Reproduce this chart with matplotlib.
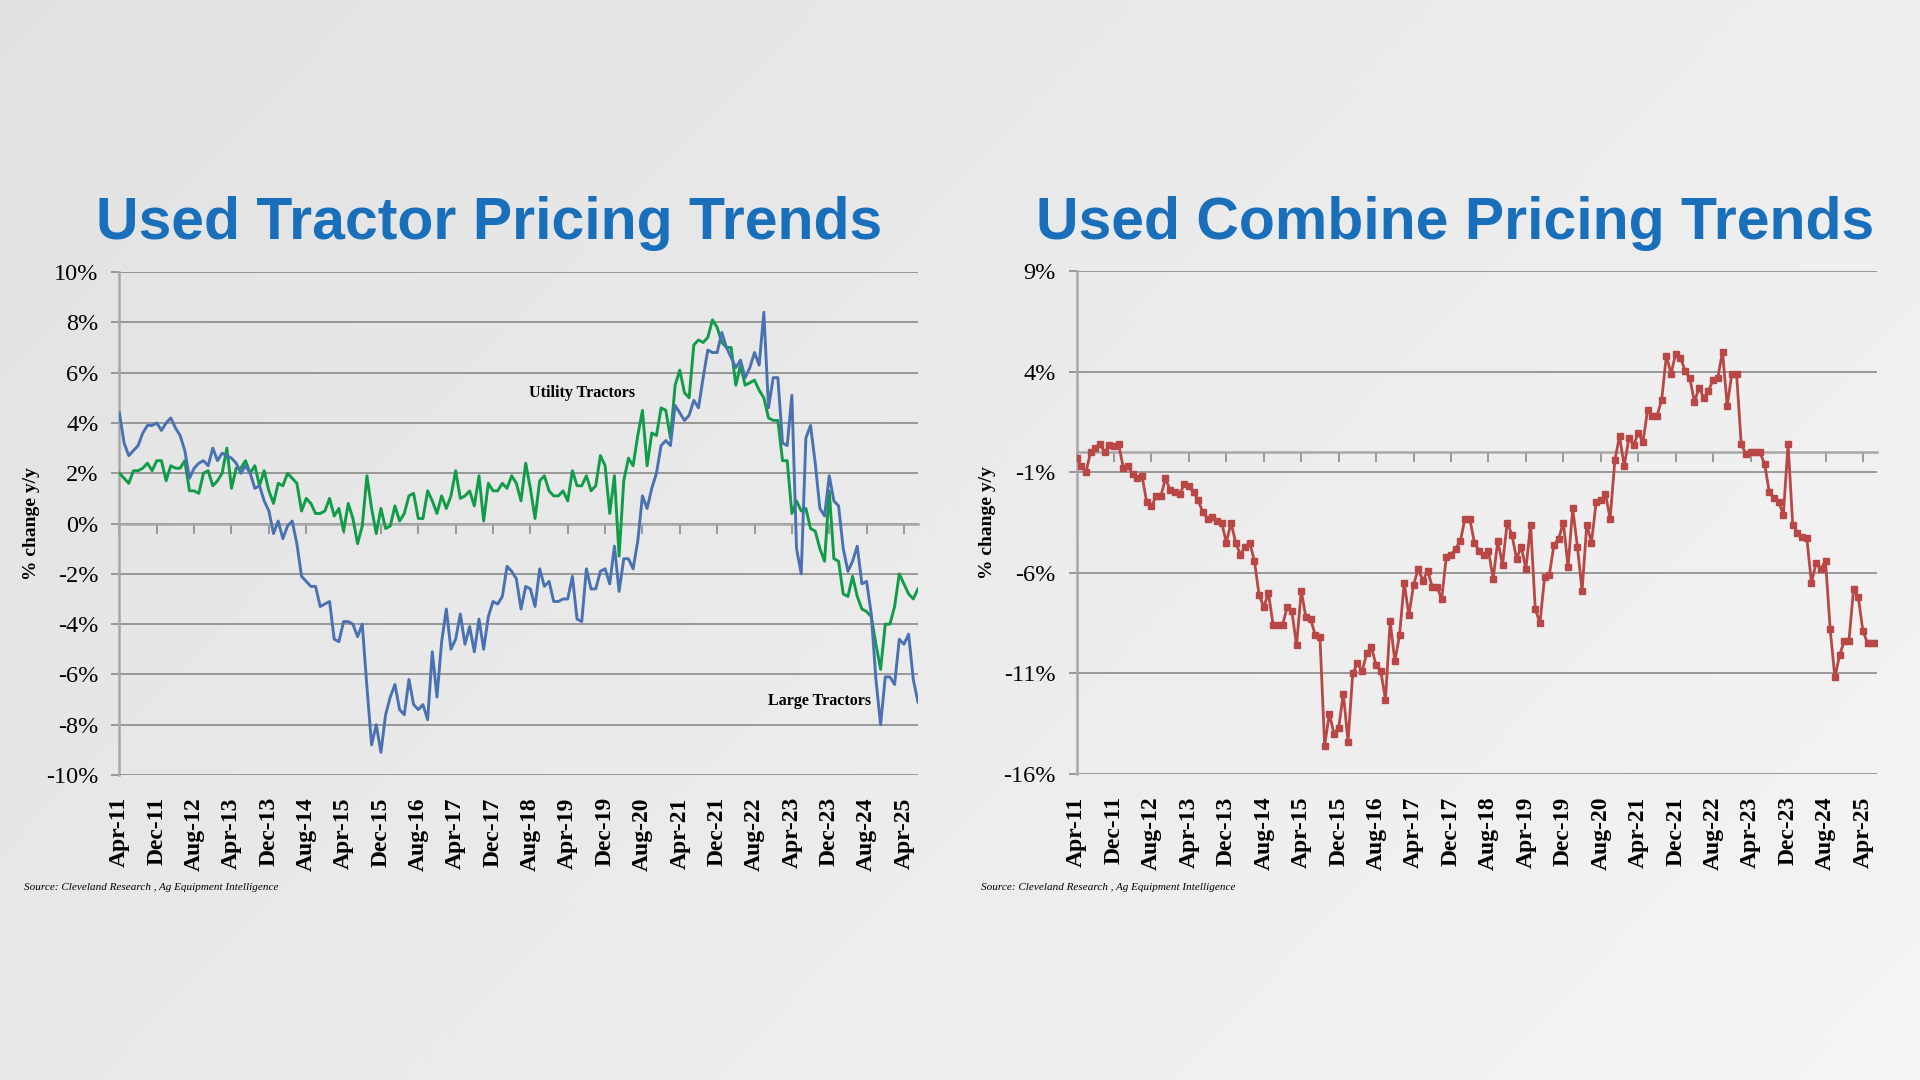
import numpy as np
import matplotlib
matplotlib.use("Agg")
import matplotlib.pyplot as plt

# monthly % change y/y, Apr-11 .. Jul-25 (172 months)
large_tractors = [
    4.4, 3.2, 2.7, 2.9, 3.1, 3.6, 3.9, 3.9, 4.0, 3.7,
    4.0, 4.2, 3.8, 3.5, 2.9, 1.8, 2.2, 2.4, 2.5, 2.3,
    3.0, 2.5, 2.8, 2.7, 2.6, 2.4, 2.0, 2.3, 2.0, 1.4,
    1.5, 0.9, 0.5, -0.4, 0.1, -0.6, -0.1, 0.1, -0.8, -2.1,
    -2.3, -2.5, -2.5, -3.3, -3.2, -3.1, -4.6, -4.7, -3.9, -3.9,
    -4.0, -4.5, -4.0, -6.5, -8.8, -8.0, -9.1, -7.6, -6.9, -6.4,
    -7.4, -7.6, -6.2, -7.2, -7.4, -7.2, -7.8, -5.1, -6.9, -4.7,
    -3.4, -5.0, -4.6, -3.6, -4.8, -4.1, -5.1, -3.8, -5.0, -3.7,
    -3.1, -3.2, -2.9, -1.7, -1.9, -2.2, -3.4, -2.5, -2.6, -3.3,
    -1.8, -2.5, -2.3, -3.1, -3.1, -3.0, -3.0, -2.1, -3.8, -3.9,
    -1.8, -2.6, -2.6, -1.9, -1.8, -2.4, -0.9, -2.7, -1.4, -1.4,
    -1.8, -0.7, 1.1, 0.6, 1.4, 2.0, 3.1, 3.3, 3.1, 4.7,
    4.4, 4.1, 4.3, 4.9, 4.6, 5.8, 6.9, 6.8, 6.8, 7.6,
    7.0, 6.6, 6.2, 6.5, 5.8, 6.2, 6.8, 6.3, 8.4, 4.6,
    5.8, 5.8, 3.2, 3.1, 5.1, -1.0, -2.0, 3.4, 3.9, 2.4,
    0.6, 0.3, 1.9, 0.9, 0.7, -1.0, -1.9, -1.5, -0.9, -2.4,
    -2.3, -3.6, -6.2, -8.0, -6.1, -6.1, -6.4, -4.6, -4.8, -4.4,
    -6.2, -7.1,
]

utility_tractors = [
    2.0, 1.8, 1.6, 2.1, 2.1, 2.2, 2.4, 2.1, 2.5, 2.5,
    1.7, 2.3, 2.2, 2.2, 2.5, 1.3, 1.3, 1.2, 2.0, 2.1,
    1.5, 1.7, 2.0, 3.0, 1.4, 2.2, 2.2, 2.5, 2.0, 2.3,
    1.5, 2.1, 1.3, 0.8, 1.6, 1.5, 2.0, 1.8, 1.6, 0.5,
    1.0, 0.8, 0.4, 0.4, 0.5, 1.0, 0.3, 0.6, -0.3, 0.8,
    0.2, -0.8, -0.1, 1.9, 0.6, -0.4, 0.6, -0.2, -0.1, 0.7,
    0.1, 0.4, 1.1, 1.2, 0.2, 0.2, 1.3, 0.9, 0.4, 1.1,
    0.6, 1.1, 2.1, 1.0, 1.1, 1.3, 0.7, 1.9, 0.1, 1.6,
    1.3, 1.3, 1.6, 1.4, 1.9, 1.6, 0.9, 2.4, 1.4, 0.2,
    1.7, 1.9, 1.3, 1.1, 1.1, 1.3, 0.9, 2.1, 1.5, 1.5,
    1.9, 1.3, 1.5, 2.7, 2.3, 0.4, 1.9, -1.3, 1.7, 2.6,
    2.3, 3.5, 4.5, 2.3, 3.6, 3.5, 4.6, 4.5, 3.4, 5.5,
    6.1, 5.2, 5.0, 7.1, 7.3, 7.2, 7.4, 8.1, 7.8, 7.2,
    7.0, 7.0, 5.5, 6.3, 5.5, 5.6, 5.7, 5.3, 5.0, 4.2,
    4.1, 4.1, 2.5, 2.5, 0.4, 0.9, 0.5, 0.6, -0.2, -0.3,
    -1.0, -1.5, 1.3, -1.4, -1.5, -2.8, -2.9, -2.1, -2.9, -3.4,
    -3.5, -3.7, -4.8, -5.8, -4.0, -4.0, -3.3, -2.0, -2.4, -2.8,
    -3.0, -2.6,
]

combines = [
    -0.3, -0.7, -1.0, 0.0, 0.2, 0.4, 0.0, 0.35, 0.3, 0.4,
    -0.8, -0.7, -1.1, -1.3, -1.2, -2.5, -2.7, -2.2, -2.2, -1.3,
    -1.9, -2.0, -2.1, -1.6, -1.7, -2.0, -2.4, -3.0, -3.3, -3.2,
    -3.4, -3.5, -4.5, -3.5, -4.5, -5.1, -4.7, -4.5, -5.4, -7.1,
    -7.7, -7.0, -8.6, -8.6, -8.6, -7.7, -7.9, -9.6, -6.9, -8.2,
    -8.3, -9.1, -9.2, -14.6, -13.0, -14.0, -13.7, -12.0, -14.4, -11.0,
    -10.5, -10.9, -10.0, -9.7, -10.6, -10.9, -12.3, -8.4, -10.4, -9.1,
    -6.5, -8.1, -6.6, -5.8, -6.4, -5.9, -6.7, -6.7, -7.3, -5.2,
    -5.1, -4.8, -4.4, -3.3, -3.3, -4.5, -4.9, -5.1, -4.9, -6.3,
    -4.4, -5.6, -3.5, -4.1, -5.3, -4.7, -5.8, -3.6, -7.8, -8.5,
    -6.2, -6.1, -4.6, -4.3, -3.5, -5.7, -2.8, -4.7, -6.9, -3.6,
    -4.5, -2.5, -2.4, -2.1, -3.3, -0.4, 0.8, -0.7, 0.7, 0.35,
    0.95, 0.5, 2.1, 1.8, 1.8, 2.6, 4.8, 3.9, 4.9, 4.7,
    4.05, 3.7, 2.5, 3.2, 2.7, 3.05, 3.6, 3.7, 5.0, 2.3,
    3.9, 3.9, 0.4, -0.1, 0.0, 0.0, 0.0, -0.6, -2.0, -2.3,
    -2.5, -3.1, 0.4, -3.6, -4.0, -4.2, -4.25, -6.5, -5.5, -5.8,
    -5.4, -8.8, -11.2, -10.1, -9.4, -9.4, -6.8, -7.2, -8.9, -9.5,
    -9.5, -9.5,
]

month_labels = ["Apr-11", "Dec-11", "Aug-12", "Apr-13", "Dec-13", "Aug-14",
                "Apr-15", "Dec-15", "Aug-16", "Apr-17", "Dec-17", "Aug-18",
                "Apr-19", "Dec-19", "Aug-20", "Apr-21", "Dec-21", "Aug-22",
                "Apr-23", "Dec-23", "Aug-24", "Apr-25"]

tractor_ticks = [10, 8, 6, 4, 2, 0, -2, -4, -6, -8, -10]
combine_ticks = [9, 4, -1, -6, -11, -16]

title_color = "#1a6fbb"
blue = "#4a72b2"
green = "#109c48"
red = "#b84745"
serif = ["Liberation Serif", "DejaVu Serif"]
sans = ["Liberation Sans", "DejaVu Sans"]

fig = plt.figure(figsize=(19.2, 10.8), dpi=100)

# light grey gradient background
bg = fig.add_axes([0, 0, 1, 1], zorder=-10)
gx, gy = np.meshgrid(np.linspace(0, 1, 400), np.linspace(0, 1, 225))
shade = 0.885 + 0.075 * (0.65 * gx + 0.35 * gy)
bg.imshow(np.dstack([shade, shade, shade]), aspect="auto", extent=[0, 1, 0, 1])
bg.axis("off")

months = np.arange(len(large_tractors))
tick_pos = months[::8]


def style_axes(ax, yticks):
    ax.patch.set_alpha(0)
    ax.set_xlim(0, len(months) - 1)
    ax.set_ylim(min(yticks), max(yticks))
    ax.set_yticks(yticks)
    ax.set_yticklabels([f"{t}%" for t in yticks], family=serif, fontsize=17.5)
    ax.grid(axis="y", color="#8a8a8a", lw=1.2)
    ax.set_axisbelow(True)
    for s in ["top", "right"]:
        ax.spines[s].set_visible(False)
    ax.spines["left"].set_color("#a8a8a8")
    ax.spines["left"].set_linewidth(1.8)
    ax.tick_params(axis="y", length=6, width=1.2, color="#8a8a8a", pad=9)
    # category axis crossing at zero, with tick marks
    ax.spines["bottom"].set_position(("data", 0))
    ax.spines["bottom"].set_color("#a8a8a8")
    ax.spines["bottom"].set_linewidth(1.8)
    ax.set_xticks(tick_pos)
    ax.tick_params(axis="x", length=7, width=1.2, color="#8a8a8a",
                   direction="out", labelbottom=False)
    sec = ax.secondary_xaxis("bottom")
    sec.set_xticks(tick_pos)
    sec.set_xticklabels(month_labels, rotation=90, family=serif,
                        fontsize=17, fontweight="bold", va="top")
    sec.tick_params(length=0, pad=16)
    sec.spines["bottom"].set_visible(False)
    ax.set_ylabel("% change y/y", family=serif, fontsize=14, fontweight="bold")
    ax.yaxis.set_label_coords(-0.100, 0.5)


# Used tractors
ax1 = fig.add_axes([0.0622, 0.2824, 0.4159, 0.4657])
style_axes(ax1, tractor_ticks)
ax1.plot(months, utility_tractors, color=green, lw=2.1, zorder=3)
ax1.plot(months, large_tractors, color=blue, lw=2.1, zorder=4)
ax1.text(99, 5.2, "Utility Tractors", family=serif, fontsize=11.5,
         fontweight="bold", ha="center", va="center")
ax1.text(150, -7.05, "Large Tractors", family=serif, fontsize=11.5,
         fontweight="bold", ha="center", va="center")

# Used combines
ax2 = fig.add_axes([0.5607, 0.2833, 0.4169, 0.4657])
style_axes(ax2, combine_ticks)
ax2.plot(months, combines, color=red, lw=2.0, marker="s", markersize=5,
         markeredgecolor=red, zorder=3)

fig.text(0.2545, 0.779, "Used Tractor Pricing Trends", family=sans,
         fontsize=42.5, fontweight="bold", color=title_color, ha="center",
         va="baseline")
fig.text(0.7577, 0.779, "Used Combine Pricing Trends", family=sans,
         fontsize=42.5, fontweight="bold", color=title_color, ha="center",
         va="baseline")

source = "Source: Cleveland Research , Ag Equipment Intelligence"
fig.text(0.0125, 0.178, source, family=serif, style="italic", fontsize=8,
         va="center")
fig.text(0.511, 0.178, source, family=serif, style="italic", fontsize=8,
         va="center")

fig.savefig("out.png", dpi=100)
